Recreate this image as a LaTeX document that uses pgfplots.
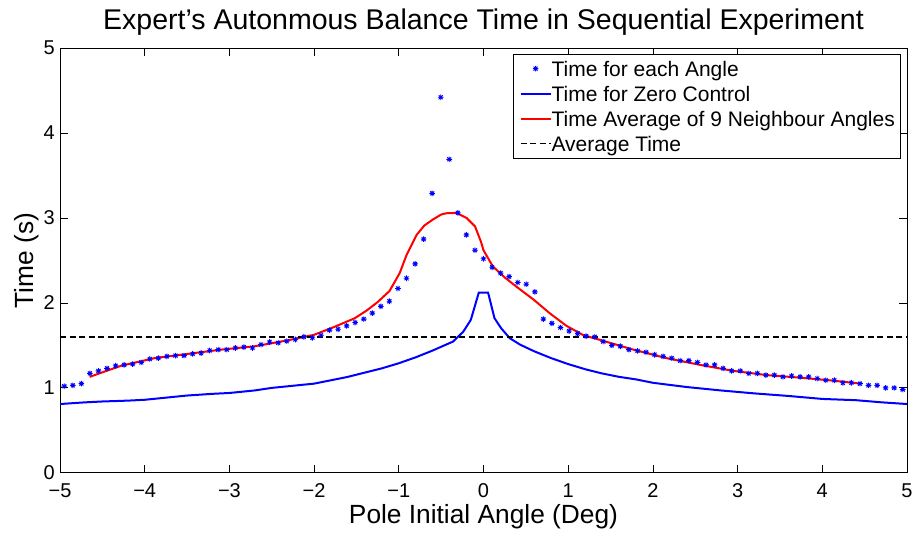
\documentclass[border=0pt]{standalone}
\usepackage{fontspec}
\setmainfont{Liberation Sans}
\usepackage{pgfplots}
\pgfplotsset{compat=1.18}
\pgfdeclareplotmark{mstar}{%
  \pgfpathmoveto{\pgfqpoint{-\pgfplotmarksize}{0pt}}\pgfpathlineto{\pgfqpoint{\pgfplotmarksize}{0pt}}%
  \pgfpathmoveto{\pgfqpoint{0pt}{-\pgfplotmarksize}}\pgfpathlineto{\pgfqpoint{0pt}{\pgfplotmarksize}}%
  \pgfpathmoveto{\pgfqpoint{-0.7071\pgfplotmarksize}{-0.7071\pgfplotmarksize}}\pgfpathlineto{\pgfqpoint{0.7071\pgfplotmarksize}{0.7071\pgfplotmarksize}}%
  \pgfpathmoveto{\pgfqpoint{-0.7071\pgfplotmarksize}{0.7071\pgfplotmarksize}}\pgfpathlineto{\pgfqpoint{0.7071\pgfplotmarksize}{-0.7071\pgfplotmarksize}}%
  \pgfusepathqstroke}
\pgfplotsset{
  lineleg/.style={legend image code/.code={\draw[##1] (0bp,0bp) -- (30bp,0bp);}},
  markleg/.style={legend image code/.code={\draw[mark repeat=1,mark phase=1,##1] plot coordinates {(15bp,0bp)};}},
}
\pgfplotstableread{
x y
-4.950 1.02
-4.849 1.03
-4.748 1.05
-4.647 1.17
-4.546 1.20
-4.445 1.23
-4.344 1.26
-4.243 1.27
-4.142 1.28
-4.041 1.30
-3.940 1.34
-3.839 1.35
-3.738 1.37
-3.637 1.38
-3.536 1.38
-3.435 1.40
-3.334 1.41
-3.233 1.44
-3.132 1.45
-3.031 1.45
-2.930 1.47
-2.829 1.48
-2.728 1.47
-2.627 1.51
-2.526 1.54
-2.424 1.53
-2.323 1.55
-2.222 1.57
-2.121 1.60
-2.020 1.59
-1.919 1.62
-1.818 1.68
-1.717 1.69
-1.616 1.73
-1.515 1.77
-1.414 1.81
-1.313 1.88
-1.212 1.96
-1.111 2.02
-1.010 2.17
-0.909 2.29
-0.808 2.46
-0.707 2.75
-0.606 3.29
-0.505 4.42
-0.404 3.69
-0.303 3.06
-0.202 2.80
-0.101 2.62
0.000 2.52
0.101 2.42
0.202 2.35
0.303 2.31
0.404 2.24
0.505 2.22
0.606 2.13
0.707 1.81
0.808 1.76
0.909 1.71
1.010 1.67
1.111 1.64
1.212 1.61
1.313 1.60
1.414 1.545
1.515 1.50
1.616 1.49
1.717 1.45
1.818 1.435
1.919 1.42
2.020 1.39
2.121 1.37
2.222 1.35
2.323 1.32
2.424 1.32
2.526 1.30
2.627 1.27
2.728 1.27
2.829 1.23
2.930 1.20
3.031 1.20
3.132 1.17
3.233 1.17
3.334 1.15
3.435 1.15
3.536 1.13
3.637 1.14
3.738 1.13
3.839 1.13
3.940 1.11
4.041 1.09
4.142 1.09
4.243 1.06
4.344 1.06
4.445 1.05
4.546 1.03
4.647 1.03
4.748 1.00
4.849 1.00
4.950 0.98
}\pointdata
\pgfplotstableread{
x y
-5.0 0.81
-4.7 0.83
-4.5 0.84
-4.2 0.85
-4.0 0.86
-3.7 0.89
-3.5 0.91
-3.2 0.93
-3.0 0.94
-2.7 0.97
-2.5 1.00
-2.2 1.03
-2.0 1.05
-1.8 1.09
-1.6 1.13
-1.4 1.18
-1.2 1.23
-1.0 1.29
-0.8 1.36
-0.6 1.44
-0.36 1.545
-0.24 1.66
-0.15 1.80
-0.056 2.12
0.054 2.12
0.13 1.82
0.21 1.70
0.31 1.585
0.43 1.51
0.6 1.43
0.8 1.35
1.0 1.28
1.2 1.22
1.4 1.17
1.6 1.13
1.8 1.10
2.0 1.06
2.4 1.01
2.8 0.97
3.2 0.935
3.6 0.905
4.0 0.87
4.4 0.855
4.7 0.83
5.0 0.81
}\zerodata
\pgfplotstableread{
x y
-4.65 1.13
-4.28 1.26
-3.885 1.35
-3.49 1.40
-3.10 1.45
-2.70 1.49
-2.31 1.56
-2.00 1.625
-1.78 1.71
-1.52 1.82
-1.38 1.91
-1.25 2.01
-1.11 2.14
-0.99 2.35
-0.91 2.56
-0.79 2.80
-0.70 2.91
-0.60 2.98
-0.50 3.04
-0.44 3.055
-0.32 3.06
-0.20 3.00
-0.10 2.90
-0.03 2.72
0.00 2.62
0.11 2.43
0.25 2.30
0.39 2.19
0.59 2.04
0.78 1.88
0.98 1.73
1.18 1.62
1.375 1.565
1.77 1.45
2.16 1.35
2.56 1.27
2.95 1.20
3.35 1.15
3.74 1.12
4.13 1.085
4.45 1.05
}\avgdata
\begin{document}
\begin{tikzpicture}
\useasboundingbox (-60bp,-62bp) rectangle (856.7bp,472.7bp);
\begin{axis}[
  at={(0,0)}, anchor=south west,
  scale only axis, width=846.7bp, height=424.7bp,
  xmin=-5, xmax=5, ymin=0, ymax=5,
  xtick={-5,-4,-3,-2,-1,0,1,2,3,4,5},
  xticklabels={−5,−4,−3,−2,−1,0,1,2,3,4,5},
  ytick={0,1,2,3,4,5},
  yticklabels={0,1,2,3,4,5},
  tick align=inside,
  major tick length=7.7bp,
  tick style={black, line width=0.8bp},
  axis line style={black, line width=1bp},
  ticklabel style={font=\fontsize{20bp}{24bp}\selectfont},
  xticklabel style={anchor=base, inner sep=0pt, yshift=-24.3bp},
  yticklabel style={anchor=east, inner sep=0pt, xshift=-5bp},
  title={Expert’s Autonmous Balance Time in Sequential Experiment},
  every axis title/.style={at={(axis description cs:0.5,1)}, anchor=base, yshift=18.8bp, font=\fontsize{28.5bp}{32bp}\selectfont},
  xlabel={Pole Initial Angle (Deg)},
  every axis x label/.style={at={(axis description cs:0.5,0)}, anchor=base, yshift=-50.3bp, font=\fontsize{26.3bp}{30bp}\selectfont},
  ylabel={Time (s)},
  every axis y label/.style={at={(axis description cs:-0.0310,0.5)}, rotate=90, anchor=base, font=\fontsize{26.3bp}{30bp}\selectfont},
  legend cell align=left,
  legend style={at={(axis description cs:1,1)}, anchor=north east, xshift=-5.7bp, yshift=-5.7bp,
    font=\fontsize{21bp}{25bp}\selectfont, draw=black, line width=0.8bp,
    inner xsep=6bp, inner ysep=5bp, row sep=6bp,
    nodes={inner sep=0pt, text height=17bp, text depth=2bp},
    /tikz/every even column/.append style={column sep=5bp}},
]
\addplot[only marks, mark=mstar, mark size=2.8bp, blue, mark options={line width=0.9bp}, markleg]
  table[x=x,y=y] {\pointdata};
\addlegendentry{Time for each Angle}
\addplot[blue, line width=2bp, lineleg]
  table[x=x,y=y] {\zerodata};
\addlegendentry{Time for Zero Control}
\addplot[red, line width=2bp, lineleg]
  table[x=x,y=y] {\avgdata};
\addlegendentry{Time Average of 9 Neighbour Angles}
\addplot[black, line width=1.2bp, dash pattern=on 6bp off 3.5bp, lineleg]
  coordinates {(-5,1.6) (5,1.6)};
\addlegendentry{Average Time}
\end{axis}
\end{tikzpicture}
\end{document}
